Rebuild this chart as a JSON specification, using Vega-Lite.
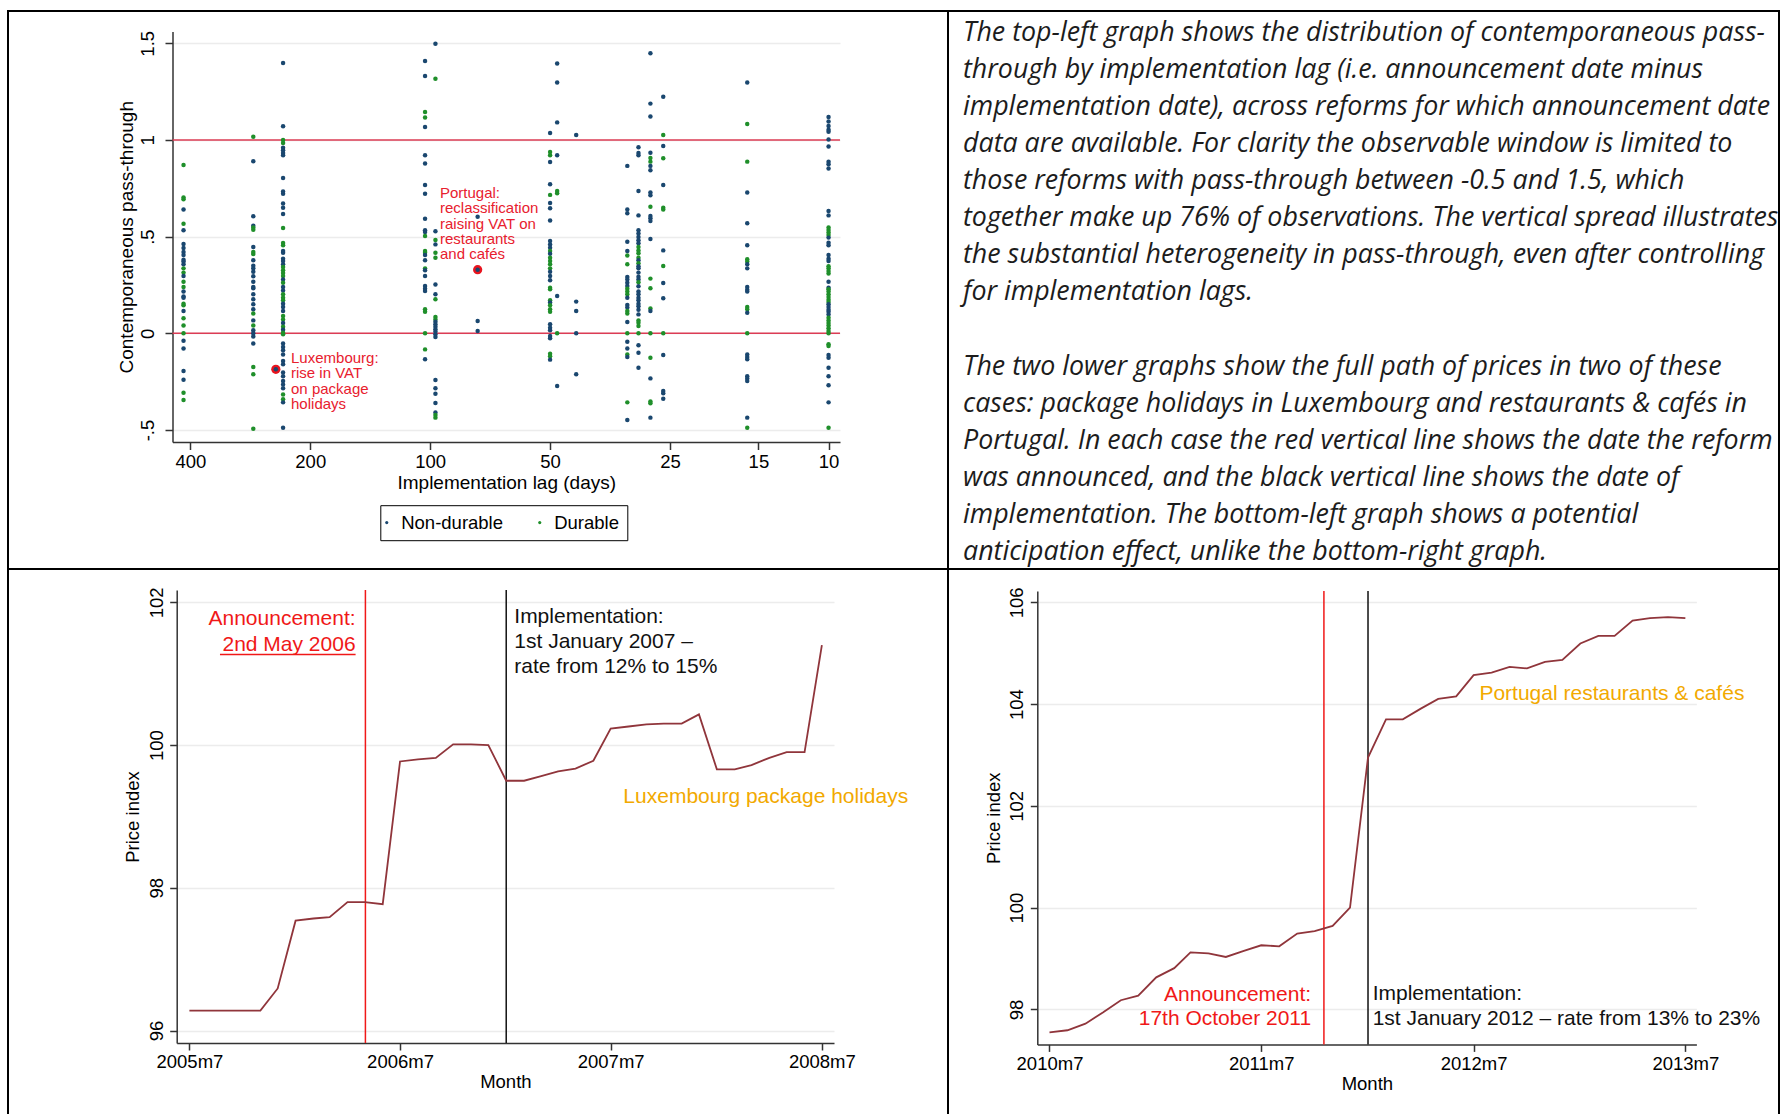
{
  "$schema": "https://vega.github.io/schema/vega-lite/v6.json",
  "background": "white",
  "padding": {"left": 7, "top": 10, "right": 2, "bottom": 0},
  "columns": 2,
  "spacing": 0,
  "align": "each",
  "bounds": "flush",
  "config": {
    "font": "Liberation Sans",
    "view": {"stroke": "black", "strokeWidth": 2, "fill": "white"},
    "axis": {
      "labelFont": "Liberation Sans",
      "titleFont": "Liberation Sans",
      "labelColor": "black",
      "titleColor": "black",
      "labelFontSize": 18.5,
      "titleFontSize": 19,
      "titleFontWeight": "normal",
      "domainColor": "#333333",
      "domainWidth": 1.5,
      "tickColor": "#333333",
      "tickWidth": 1.5,
      "tickSize": 7,
      "gridColor": "#ececec",
      "gridWidth": 1.5,
      "labelFlush": false,
      "labelOverlap": false
    }
  },
  "concat": [
    {
      "width": 940,
      "height": 558,
      "encoding": {
        "x": {
          "field": "lag",
          "type": "quantitative",
          "scale": {"type": "log", "domain": [9.36, 443.4], "range": [832, 164.5], "nice": false},
          "axis": {
            "orient": "bottom",
            "offset": -127,
            "values": [400, 200, 100, 50, 25, 15, 10],
            "format": "d",
            "grid": false,
            "tickSize": 7.5,
            "labelPadding": 3,
            "title": "Implementation lag (days)",
            "titleBaseline": "top",
            "titlePadding": 2.2
          }
        },
        "y": {
          "field": "pass",
          "type": "quantitative",
          "scale": {"domain": [-0.562, 1.561], "range": [431, 20.5], "nice": false, "zero": false},
          "axis": {
            "orient": "left",
            "offset": -164.5,
            "values": [-0.5, 0, 0.5, 1, 1.5],
            "labelExpr": "datum.value == -0.5 ? '-.5' : datum.value == 0.5 ? '.5' : datum.value == 1.5 ? '1.5' : datum.value == 1 ? '1' : '0'",
            "labelAngle": -90,
            "labelAlign": "center",
            "labelBaseline": "alphabetic",
            "labelPadding": 11.3,
            "tickSize": 7.5,
            "grid": true,
            "title": "Contemporaneous pass-through",
            "titleBaseline": "bottom",
            "titlePadding": 2.6
          }
        }
      },
      "layer": [
        {
          "data": {"values": [
            {"lag": 443.4, "lag_end": 9.36, "pass": 0},
            {"lag": 443.4, "lag_end": 9.36, "pass": 1}
          ]},
          "mark": {"type": "rule", "color": "#dc3c55", "strokeWidth": 1.5},
          "encoding": {"x2": {"field": "lag_end"}}
        },
        {
          "data": {"values": [
            {"lag": 244, "pass": -0.186, "reform": "Luxembourg package holidays"},
            {"lag": 76, "pass": 0.329, "reform": "Portugal restaurants and cafés"}
          ]},
          "mark": {"type": "circle", "color": "#e8141e", "size": 85, "opacity": 1}
        },
        {
          "data": {"values": [
            {"lag":416,"pass":0.871,"group":"Durable"},{"lag":416,"pass":0.702,"group":"Durable"},{"lag":416,"pass":0.693,"group":"Durable"},{"lag":416,"pass":0.640,"group":"Non-durable"},{"lag":416,"pass":0.567,"group":"Durable"},{"lag":416,"pass":0.533,"group":"Non-durable"},{"lag":416,"pass":0.462,"group":"Non-durable"},{"lag":416,"pass":0.441,"group":"Non-durable"},{"lag":416,"pass":0.421,"group":"Non-durable"},{"lag":416,"pass":0.405,"group":"Non-durable"},{"lag":416,"pass":0.381,"group":"Non-durable"},{"lag":416,"pass":0.371,"group":"Non-durable"},{"lag":416,"pass":0.357,"group":"Non-durable"},{"lag":416,"pass":0.336,"group":"Durable"},{"lag":416,"pass":0.314,"group":"Durable"},{"lag":416,"pass":0.297,"group":"Non-durable"},{"lag":416,"pass":0.267,"group":"Durable"},{"lag":416,"pass":0.240,"group":"Durable"},{"lag":416,"pass":0.216,"group":"Non-durable"},{"lag":416,"pass":0.190,"group":"Non-durable"},{"lag":416,"pass":0.184,"group":"Non-durable"},{"lag":416,"pass":0.153,"group":"Durable"},{"lag":416,"pass":0.145,"group":"Durable"},{"lag":416,"pass":0.116,"group":"Non-durable"},{"lag":416,"pass":0.078,"group":"Durable"},{"lag":416,"pass":0.040,"group":"Durable"},{"lag":416,"pass":0.0,"group":"Durable"},{"lag":416,"pass":-0.038,"group":"Non-durable"},{"lag":416,"pass":-0.078,"group":"Non-durable"},{"lag":416,"pass":-0.195,"group":"Non-durable"},{"lag":416,"pass":-0.240,"group":"Non-durable"},{"lag":416,"pass":-0.307,"group":"Durable"},{"lag":416,"pass":-0.345,"group":"Durable"},

            {"lag":278,"pass":1.017,"group":"Durable"},{"lag":278,"pass":0.890,"group":"Non-durable"},{"lag":278,"pass":0.605,"group":"Non-durable"},{"lag":278,"pass":0.557,"group":"Non-durable"},{"lag":278,"pass":0.547,"group":"Durable"},{"lag":278,"pass":0.536,"group":"Durable"},{"lag":278,"pass":0.447,"group":"Non-durable"},{"lag":278,"pass":0.421,"group":"Durable"},{"lag":278,"pass":0.410,"group":"Durable"},{"lag":278,"pass":0.378,"group":"Non-durable"},{"lag":278,"pass":0.350,"group":"Non-durable"},{"lag":278,"pass":0.336,"group":"Non-durable"},{"lag":278,"pass":0.319,"group":"Non-durable"},{"lag":278,"pass":0.295,"group":"Non-durable"},{"lag":278,"pass":0.267,"group":"Non-durable"},{"lag":278,"pass":0.240,"group":"Non-durable"},{"lag":278,"pass":0.233,"group":"Non-durable"},{"lag":278,"pass":0.202,"group":"Non-durable"},{"lag":278,"pass":0.176,"group":"Non-durable"},{"lag":278,"pass":0.150,"group":"Non-durable"},{"lag":278,"pass":0.124,"group":"Non-durable"},{"lag":278,"pass":0.102,"group":"Durable"},{"lag":278,"pass":0.067,"group":"Non-durable"},{"lag":278,"pass":0.041,"group":"Durable"},{"lag":278,"pass":0.016,"group":"Non-durable"},{"lag":278,"pass":0.0,"group":"Non-durable"},{"lag":278,"pass":-0.016,"group":"Non-durable"},{"lag":278,"pass":-0.053,"group":"Non-durable"},{"lag":278,"pass":-0.174,"group":"Durable"},{"lag":278,"pass":-0.212,"group":"Durable"},{"lag":278,"pass":-0.493,"group":"Durable"},

            {"lag":234,"pass":1.398,"group":"Non-durable"},{"lag":234,"pass":1.071,"group":"Non-durable"},{"lag":234,"pass":1.0,"group":"Durable"},{"lag":234,"pass":0.984,"group":"Durable"},{"lag":234,"pass":0.960,"group":"Non-durable"},{"lag":234,"pass":0.947,"group":"Non-durable"},{"lag":234,"pass":0.933,"group":"Non-durable"},{"lag":234,"pass":0.921,"group":"Non-durable"},{"lag":234,"pass":0.803,"group":"Non-durable"},{"lag":234,"pass":0.733,"group":"Non-durable"},{"lag":234,"pass":0.722,"group":"Non-durable"},{"lag":234,"pass":0.672,"group":"Non-durable"},{"lag":234,"pass":0.650,"group":"Non-durable"},{"lag":234,"pass":0.617,"group":"Non-durable"},{"lag":234,"pass":0.545,"group":"Durable"},{"lag":234,"pass":0.467,"group":"Durable"},{"lag":234,"pass":0.455,"group":"Durable"},{"lag":234,"pass":0.426,"group":"Non-durable"},{"lag":234,"pass":0.417,"group":"Non-durable"},{"lag":234,"pass":0.386,"group":"Non-durable"},{"lag":234,"pass":0.374,"group":"Non-durable"},{"lag":234,"pass":0.357,"group":"Non-durable"},{"lag":234,"pass":0.343,"group":"Durable"},{"lag":234,"pass":0.326,"group":"Durable"},{"lag":234,"pass":0.312,"group":"Durable"},{"lag":234,"pass":0.297,"group":"Durable"},{"lag":234,"pass":0.279,"group":"Non-durable"},{"lag":234,"pass":0.262,"group":"Durable"},{"lag":234,"pass":0.240,"group":"Non-durable"},{"lag":234,"pass":0.222,"group":"Non-durable"},{"lag":234,"pass":0.202,"group":"Durable"},{"lag":234,"pass":0.184,"group":"Durable"},{"lag":234,"pass":0.171,"group":"Durable"},{"lag":234,"pass":0.153,"group":"Non-durable"},{"lag":234,"pass":0.136,"group":"Non-durable"},{"lag":234,"pass":0.116,"group":"Non-durable"},{"lag":234,"pass":0.090,"group":"Durable"},{"lag":234,"pass":0.071,"group":"Durable"},{"lag":234,"pass":0.053,"group":"Non-durable"},{"lag":234,"pass":0.034,"group":"Durable"},{"lag":234,"pass":0.019,"group":"Non-durable"},{"lag":234,"pass":0.003,"group":"Durable"},{"lag":234,"pass":-0.005,"group":"Durable"},{"lag":234,"pass":-0.053,"group":"Non-durable"},{"lag":234,"pass":-0.071,"group":"Non-durable"},{"lag":234,"pass":-0.088,"group":"Non-durable"},{"lag":234,"pass":-0.109,"group":"Non-durable"},{"lag":234,"pass":-0.143,"group":"Non-durable"},{"lag":234,"pass":-0.160,"group":"Non-durable"},{"lag":234,"pass":-0.202,"group":"Non-durable"},{"lag":234,"pass":-0.222,"group":"Non-durable"},{"lag":234,"pass":-0.247,"group":"Non-durable"},{"lag":234,"pass":-0.264,"group":"Non-durable"},{"lag":234,"pass":-0.284,"group":"Non-durable"},{"lag":234,"pass":-0.316,"group":"Durable"},{"lag":234,"pass":-0.341,"group":"Durable"},{"lag":234,"pass":-0.357,"group":"Non-durable"},{"lag":234,"pass":-0.488,"group":"Non-durable"},

            {"lag":244,"pass":-0.186,"group":"Non-durable"},

            {"lag":103,"pass":1.409,"group":"Non-durable"},{"lag":103,"pass":1.331,"group":"Non-durable"},{"lag":103,"pass":1.145,"group":"Durable"},{"lag":103,"pass":1.116,"group":"Durable"},{"lag":103,"pass":1.067,"group":"Non-durable"},{"lag":103,"pass":0.921,"group":"Non-durable"},{"lag":103,"pass":0.878,"group":"Non-durable"},{"lag":103,"pass":0.767,"group":"Non-durable"},{"lag":103,"pass":0.722,"group":"Non-durable"},{"lag":103,"pass":0.593,"group":"Non-durable"},{"lag":103,"pass":0.533,"group":"Non-durable"},{"lag":103,"pass":0.524,"group":"Non-durable"},{"lag":103,"pass":0.503,"group":"Durable"},{"lag":103,"pass":0.426,"group":"Durable"},{"lag":103,"pass":0.417,"group":"Durable"},{"lag":103,"pass":0.405,"group":"Non-durable"},{"lag":103,"pass":0.378,"group":"Non-durable"},{"lag":103,"pass":0.336,"group":"Durable"},{"lag":103,"pass":0.326,"group":"Non-durable"},{"lag":103,"pass":0.297,"group":"Non-durable"},{"lag":103,"pass":0.245,"group":"Non-durable"},{"lag":103,"pass":0.231,"group":"Non-durable"},{"lag":103,"pass":0.219,"group":"Non-durable"},{"lag":103,"pass":0.124,"group":"Durable"},{"lag":103,"pass":0.112,"group":"Durable"},{"lag":103,"pass":0.0,"group":"Durable"},{"lag":103,"pass":-0.083,"group":"Durable"},{"lag":103,"pass":-0.134,"group":"Non-durable"},

            {"lag":97,"pass":1.498,"group":"Non-durable"},{"lag":97,"pass":1.317,"group":"Durable"},{"lag":97,"pass":0.528,"group":"Non-durable"},{"lag":97,"pass":0.483,"group":"Durable"},{"lag":97,"pass":0.460,"group":"Non-durable"},{"lag":97,"pass":0.417,"group":"Durable"},{"lag":97,"pass":0.391,"group":"Durable"},{"lag":97,"pass":0.253,"group":"Non-durable"},{"lag":97,"pass":0.202,"group":"Non-durable"},{"lag":97,"pass":0.176,"group":"Durable"},{"lag":97,"pass":0.084,"group":"Durable"},{"lag":97,"pass":0.072,"group":"Durable"},{"lag":97,"pass":0.060,"group":"Non-durable"},{"lag":97,"pass":0.047,"group":"Non-durable"},{"lag":97,"pass":0.034,"group":"Non-durable"},{"lag":97,"pass":0.021,"group":"Non-durable"},{"lag":97,"pass":0.009,"group":"Non-durable"},{"lag":97,"pass":-0.005,"group":"Non-durable"},{"lag":97,"pass":-0.019,"group":"Non-durable"},{"lag":97,"pass":-0.241,"group":"Non-durable"},{"lag":97,"pass":-0.284,"group":"Non-durable"},{"lag":97,"pass":-0.312,"group":"Non-durable"},{"lag":97,"pass":-0.360,"group":"Non-durable"},{"lag":97,"pass":-0.410,"group":"Non-durable"},{"lag":97,"pass":-0.422,"group":"Durable"},{"lag":97,"pass":-0.436,"group":"Durable"},

            {"lag":76,"pass":0.603,"group":"Non-durable"},{"lag":76,"pass":0.329,"group":"Non-durable"},{"lag":76,"pass":0.064,"group":"Non-durable"},{"lag":76,"pass":0.012,"group":"Non-durable"},

            {"lag":50,"pass":1.036,"group":"Non-durable"},{"lag":50,"pass":0.938,"group":"Durable"},{"lag":50,"pass":0.921,"group":"Durable"},{"lag":50,"pass":0.886,"group":"Non-durable"},{"lag":50,"pass":0.771,"group":"Non-durable"},{"lag":50,"pass":0.716,"group":"Durable"},{"lag":50,"pass":0.674,"group":"Non-durable"},{"lag":50,"pass":0.647,"group":"Non-durable"},{"lag":50,"pass":0.584,"group":"Non-durable"},{"lag":50,"pass":0.478,"group":"Non-durable"},{"lag":50,"pass":0.460,"group":"Non-durable"},{"lag":50,"pass":0.443,"group":"Non-durable"},{"lag":50,"pass":0.426,"group":"Durable"},{"lag":50,"pass":0.412,"group":"Non-durable"},{"lag":50,"pass":0.391,"group":"Durable"},{"lag":50,"pass":0.374,"group":"Durable"},{"lag":50,"pass":0.357,"group":"Durable"},{"lag":50,"pass":0.336,"group":"Durable"},{"lag":50,"pass":0.319,"group":"Non-durable"},{"lag":50,"pass":0.297,"group":"Non-durable"},{"lag":50,"pass":0.274,"group":"Non-durable"},{"lag":50,"pass":0.236,"group":"Durable"},{"lag":50,"pass":0.228,"group":"Durable"},{"lag":50,"pass":0.171,"group":"Durable"},{"lag":50,"pass":0.159,"group":"Non-durable"},{"lag":50,"pass":0.145,"group":"Durable"},{"lag":50,"pass":0.124,"group":"Durable"},{"lag":50,"pass":0.112,"group":"Durable"},{"lag":50,"pass":0.047,"group":"Non-durable"},{"lag":50,"pass":0.029,"group":"Non-durable"},{"lag":50,"pass":0.016,"group":"Non-durable"},{"lag":50,"pass":-0.014,"group":"Non-durable"},{"lag":50,"pass":-0.026,"group":"Non-durable"},{"lag":50,"pass":-0.105,"group":"Durable"},{"lag":50,"pass":-0.119,"group":"Durable"},{"lag":50,"pass":-0.136,"group":"Non-durable"},

            {"lag":48,"pass":1.395,"group":"Non-durable"},{"lag":48,"pass":1.297,"group":"Non-durable"},{"lag":48,"pass":1.091,"group":"Non-durable"},{"lag":48,"pass":0.921,"group":"Non-durable"},{"lag":48,"pass":0.736,"group":"Durable"},{"lag":48,"pass":0.724,"group":"Durable"},{"lag":48,"pass":0.193,"group":"Non-durable"},{"lag":48,"pass":0.0,"group":"Durable"},{"lag":48,"pass":-0.272,"group":"Non-durable"},

            {"lag":43,"pass":1.026,"group":"Non-durable"},{"lag":43,"pass":0.164,"group":"Non-durable"},{"lag":43,"pass":0.116,"group":"Non-durable"},{"lag":43,"pass":0.0,"group":"Non-durable"},{"lag":43,"pass":-0.212,"group":"Non-durable"},

            {"lag":32,"pass":0.866,"group":"Non-durable"},{"lag":32,"pass":0.641,"group":"Non-durable"},{"lag":32,"pass":0.621,"group":"Non-durable"},{"lag":32,"pass":0.474,"group":"Non-durable"},{"lag":32,"pass":0.426,"group":"Non-durable"},{"lag":32,"pass":0.402,"group":"Durable"},{"lag":32,"pass":0.357,"group":"Durable"},{"lag":32,"pass":0.291,"group":"Non-durable"},{"lag":32,"pass":0.278,"group":"Non-durable"},{"lag":32,"pass":0.262,"group":"Non-durable"},{"lag":32,"pass":0.245,"group":"Non-durable"},{"lag":32,"pass":0.231,"group":"Durable"},{"lag":32,"pass":0.216,"group":"Durable"},{"lag":32,"pass":0.202,"group":"Durable"},{"lag":32,"pass":0.184,"group":"Non-durable"},{"lag":32,"pass":0.147,"group":"Non-durable"},{"lag":32,"pass":0.133,"group":"Non-durable"},{"lag":32,"pass":0.116,"group":"Durable"},{"lag":32,"pass":0.102,"group":"Durable"},{"lag":32,"pass":0.059,"group":"Non-durable"},{"lag":32,"pass":0.0,"group":"Durable"},{"lag":32,"pass":-0.043,"group":"Non-durable"},{"lag":32,"pass":-0.079,"group":"Non-durable"},{"lag":32,"pass":-0.109,"group":"Durable"},{"lag":32,"pass":-0.122,"group":"Non-durable"},{"lag":32,"pass":-0.357,"group":"Durable"},{"lag":32,"pass":-0.448,"group":"Non-durable"},

            {"lag":30,"pass":0.962,"group":"Non-durable"},{"lag":30,"pass":0.933,"group":"Non-durable"},{"lag":30,"pass":0.921,"group":"Non-durable"},{"lag":30,"pass":0.736,"group":"Non-durable"},{"lag":30,"pass":0.610,"group":"Non-durable"},{"lag":30,"pass":0.533,"group":"Non-durable"},{"lag":30,"pass":0.516,"group":"Non-durable"},{"lag":30,"pass":0.498,"group":"Non-durable"},{"lag":30,"pass":0.481,"group":"Non-durable"},{"lag":30,"pass":0.466,"group":"Non-durable"},{"lag":30,"pass":0.447,"group":"Durable"},{"lag":30,"pass":0.429,"group":"Durable"},{"lag":30,"pass":0.414,"group":"Durable"},{"lag":30,"pass":0.391,"group":"Durable"},{"lag":30,"pass":0.378,"group":"Non-durable"},{"lag":30,"pass":0.362,"group":"Durable"},{"lag":30,"pass":0.347,"group":"Non-durable"},{"lag":30,"pass":0.336,"group":"Non-durable"},{"lag":30,"pass":0.314,"group":"Non-durable"},{"lag":30,"pass":0.293,"group":"Non-durable"},{"lag":30,"pass":0.279,"group":"Non-durable"},{"lag":30,"pass":0.264,"group":"Durable"},{"lag":30,"pass":0.243,"group":"Non-durable"},{"lag":30,"pass":0.216,"group":"Non-durable"},{"lag":30,"pass":0.202,"group":"Non-durable"},{"lag":30,"pass":0.184,"group":"Non-durable"},{"lag":30,"pass":0.171,"group":"Non-durable"},{"lag":30,"pass":0.153,"group":"Non-durable"},{"lag":30,"pass":0.140,"group":"Non-durable"},{"lag":30,"pass":0.122,"group":"Non-durable"},{"lag":30,"pass":0.098,"group":"Non-durable"},{"lag":30,"pass":0.067,"group":"Durable"},{"lag":30,"pass":0.055,"group":"Durable"},{"lag":30,"pass":0.038,"group":"Durable"},{"lag":30,"pass":0.0,"group":"Durable"},{"lag":30,"pass":-0.062,"group":"Non-durable"},{"lag":30,"pass":-0.100,"group":"Non-durable"},{"lag":30,"pass":-0.178,"group":"Non-durable"},

            {"lag":28,"pass":1.448,"group":"Non-durable"},{"lag":28,"pass":1.188,"group":"Non-durable"},{"lag":28,"pass":1.121,"group":"Non-durable"},{"lag":28,"pass":0.934,"group":"Non-durable"},{"lag":28,"pass":0.907,"group":"Durable"},{"lag":28,"pass":0.888,"group":"Durable"},{"lag":28,"pass":0.866,"group":"Non-durable"},{"lag":28,"pass":0.843,"group":"Non-durable"},{"lag":28,"pass":0.728,"group":"Non-durable"},{"lag":28,"pass":0.714,"group":"Non-durable"},{"lag":28,"pass":0.655,"group":"Durable"},{"lag":28,"pass":0.607,"group":"Non-durable"},{"lag":28,"pass":0.595,"group":"Non-durable"},{"lag":28,"pass":0.581,"group":"Non-durable"},{"lag":28,"pass":0.488,"group":"Non-durable"},{"lag":28,"pass":0.283,"group":"Durable"},{"lag":28,"pass":0.233,"group":"Durable"},{"lag":28,"pass":0.129,"group":"Durable"},{"lag":28,"pass":0.116,"group":"Non-durable"},{"lag":28,"pass":0.0,"group":"Durable"},{"lag":28,"pass":-0.126,"group":"Durable"},{"lag":28,"pass":-0.233,"group":"Non-durable"},{"lag":28,"pass":-0.353,"group":"Durable"},{"lag":28,"pass":-0.362,"group":"Durable"},{"lag":28,"pass":-0.436,"group":"Non-durable"},

            {"lag":26,"pass":1.224,"group":"Non-durable"},{"lag":26,"pass":1.026,"group":"Durable"},{"lag":26,"pass":0.969,"group":"Non-durable"},{"lag":26,"pass":0.905,"group":"Durable"},{"lag":26,"pass":0.767,"group":"Non-durable"},{"lag":26,"pass":0.650,"group":"Durable"},{"lag":26,"pass":0.641,"group":"Durable"},{"lag":26,"pass":0.429,"group":"Non-durable"},{"lag":26,"pass":0.348,"group":"Durable"},{"lag":26,"pass":0.260,"group":"Non-durable"},{"lag":26,"pass":0.181,"group":"Non-durable"},{"lag":26,"pass":0.0,"group":"Durable"},{"lag":26,"pass":-0.112,"group":"Non-durable"},{"lag":26,"pass":-0.298,"group":"Non-durable"},{"lag":26,"pass":-0.310,"group":"Non-durable"},{"lag":26,"pass":-0.338,"group":"Non-durable"},

            {"lag":16,"pass":1.297,"group":"Non-durable"},{"lag":16,"pass":1.083,"group":"Durable"},{"lag":16,"pass":0.888,"group":"Durable"},{"lag":16,"pass":0.728,"group":"Non-durable"},{"lag":16,"pass":0.569,"group":"Non-durable"},{"lag":16,"pass":0.455,"group":"Non-durable"},{"lag":16,"pass":0.383,"group":"Durable"},{"lag":16,"pass":0.371,"group":"Durable"},{"lag":16,"pass":0.357,"group":"Non-durable"},{"lag":16,"pass":0.336,"group":"Non-durable"},{"lag":16,"pass":0.240,"group":"Non-durable"},{"lag":16,"pass":0.226,"group":"Non-durable"},{"lag":16,"pass":0.216,"group":"Non-durable"},{"lag":16,"pass":0.136,"group":"Durable"},{"lag":16,"pass":0.124,"group":"Durable"},{"lag":16,"pass":0.107,"group":"Non-durable"},{"lag":16,"pass":0.0,"group":"Durable"},{"lag":16,"pass":-0.109,"group":"Non-durable"},{"lag":16,"pass":-0.122,"group":"Non-durable"},{"lag":16,"pass":-0.134,"group":"Non-durable"},{"lag":16,"pass":-0.222,"group":"Non-durable"},{"lag":16,"pass":-0.234,"group":"Non-durable"},{"lag":16,"pass":-0.247,"group":"Non-durable"},{"lag":16,"pass":-0.436,"group":"Non-durable"},{"lag":16,"pass":-0.488,"group":"Durable"},

            {"lag":10,"pass":1.119,"group":"Non-durable"},{"lag":10,"pass":1.095,"group":"Non-durable"},{"lag":10,"pass":1.072,"group":"Non-durable"},{"lag":10,"pass":1.053,"group":"Non-durable"},{"lag":10,"pass":1.043,"group":"Non-durable"},{"lag":10,"pass":1.003,"group":"Non-durable"},{"lag":10,"pass":0.966,"group":"Non-durable"},{"lag":10,"pass":0.888,"group":"Non-durable"},{"lag":10,"pass":0.874,"group":"Non-durable"},{"lag":10,"pass":0.852,"group":"Non-durable"},{"lag":10,"pass":0.633,"group":"Non-durable"},{"lag":10,"pass":0.610,"group":"Non-durable"},{"lag":10,"pass":0.547,"group":"Durable"},{"lag":10,"pass":0.534,"group":"Durable"},{"lag":10,"pass":0.521,"group":"Durable"},{"lag":10,"pass":0.509,"group":"Durable"},{"lag":10,"pass":0.495,"group":"Non-durable"},{"lag":10,"pass":0.469,"group":"Non-durable"},{"lag":10,"pass":0.455,"group":"Non-durable"},{"lag":10,"pass":0.405,"group":"Non-durable"},{"lag":10,"pass":0.386,"group":"Non-durable"},{"lag":10,"pass":0.374,"group":"Non-durable"},{"lag":10,"pass":0.347,"group":"Durable"},{"lag":10,"pass":0.336,"group":"Durable"},{"lag":10,"pass":0.322,"group":"Durable"},{"lag":10,"pass":0.309,"group":"Durable"},{"lag":10,"pass":0.267,"group":"Non-durable"},{"lag":10,"pass":0.236,"group":"Non-durable"},{"lag":10,"pass":0.228,"group":"Durable"},{"lag":10,"pass":0.216,"group":"Durable"},{"lag":10,"pass":0.202,"group":"Durable"},{"lag":10,"pass":0.188,"group":"Durable"},{"lag":10,"pass":0.174,"group":"Durable"},{"lag":10,"pass":0.162,"group":"Durable"},{"lag":10,"pass":0.150,"group":"Non-durable"},{"lag":10,"pass":0.136,"group":"Non-durable"},{"lag":10,"pass":0.122,"group":"Non-durable"},{"lag":10,"pass":0.112,"group":"Non-durable"},{"lag":10,"pass":0.098,"group":"Non-durable"},{"lag":10,"pass":0.081,"group":"Durable"},{"lag":10,"pass":0.067,"group":"Durable"},{"lag":10,"pass":0.053,"group":"Durable"},{"lag":10,"pass":0.040,"group":"Durable"},{"lag":10,"pass":0.026,"group":"Durable"},{"lag":10,"pass":0.012,"group":"Durable"},{"lag":10,"pass":0.0,"group":"Durable"},{"lag":10,"pass":-0.057,"group":"Durable"},{"lag":10,"pass":-0.066,"group":"Durable"},{"lag":10,"pass":-0.112,"group":"Non-durable"},{"lag":10,"pass":-0.126,"group":"Non-durable"},{"lag":10,"pass":-0.178,"group":"Non-durable"},{"lag":10,"pass":-0.222,"group":"Non-durable"},{"lag":10,"pass":-0.269,"group":"Non-durable"},{"lag":10,"pass":-0.357,"group":"Non-durable"},{"lag":10,"pass":-0.488,"group":"Durable"}
          ]},
          "mark": {"type": "circle", "size": 20, "opacity": 1},
          "encoding": {
            "color": {
              "field": "group",
              "type": "nominal",
              "scale": {"domain": ["Non-durable", "Durable"], "range": ["#1a476f", "#1f8f2a"]},
              "legend": {
                "orient": "none",
                "legendX": 372.3,
                "legendY": 494.2,
                "direction": "horizontal",
                "columns": 2,
                "title": null,
                "fillColor": "white",
                "strokeColor": "black",
                "padding": 8,
                "symbolType": "circle",
                "symbolSize": 10,
                "symbolStrokeWidth": 0,
                "symbolOffset": -10.8,
                "labelFont": "Liberation Sans",
                "labelFontSize": 18.5,
                "labelColor": "black",
                "labelOffset": 5.2,
                "columnPadding": 34
              }
            }
          }
        },
        {
          "data": {"values": [
            {"lag": 223.5, "pass": -0.128, "note": "Luxembourg:"},
            {"lag": 223.5, "pass": -0.207, "note": "rise in VAT"},
            {"lag": 223.5, "pass": -0.286, "note": "on package"},
            {"lag": 223.5, "pass": -0.365, "note": "holidays"},
            {"lag": 94.5, "pass": 0.728, "note": "Portugal:"},
            {"lag": 94.5, "pass": 0.649, "note": "reclassification"},
            {"lag": 94.5, "pass": 0.568, "note": "raising VAT on"},
            {"lag": 94.5, "pass": 0.487, "note": "restaurants"},
            {"lag": 94.5, "pass": 0.408, "note": "and cafés"}
          ]},
          "mark": {"type": "text", "align": "left", "baseline": "middle", "color": "#e8202e", "fontSize": 15, "font": "Liberation Sans"},
          "encoding": {"text": {"field": "note"}}
        }
      ]
    },
    {
      "width": 831,
      "height": 558,
      "data": {"values": [
        {"line": 0, "copy": "The top-left graph shows the distribution of contemporaneous pass-"},
        {"line": 1, "copy": "through by implementation lag (i.e. announcement date minus"},
        {"line": 2, "copy": "implementation date), across reforms for which announcement date"},
        {"line": 3, "copy": "data are available. For clarity the observable window is limited to"},
        {"line": 4, "copy": "those reforms with pass-through between -0.5 and 1.5, which"},
        {"line": 5, "copy": "together make up 76% of observations. The vertical spread illustrates"},
        {"line": 6, "copy": "the substantial heterogeneity in pass-through, even after controlling"},
        {"line": 7, "copy": "for implementation lags."},
        {"line": 9, "copy": "The two lower graphs show the full path of prices in two of these"},
        {"line": 10, "copy": "cases: package holidays in Luxembourg and restaurants & cafés in"},
        {"line": 11, "copy": "Portugal. In each case the red vertical line shows the date the reform"},
        {"line": 12, "copy": "was announced, and the black vertical line shows the date of"},
        {"line": 13, "copy": "implementation. The bottom-left graph shows a potential"},
        {"line": 14, "copy": "anticipation effect, unlike the bottom-right graph."}
      ]},
      "mark": {"type": "text", "align": "left", "baseline": "middle", "font": "Open Sans", "fontStyle": "italic", "fontSize": 26.8, "color": "#1c1c1c"},
      "encoding": {
        "x": {"datum": 0, "type": "quantitative", "scale": {"domain": [-0.0184, 1], "nice": false, "zero": false}, "axis": null},
        "y": {"field": "line", "type": "quantitative", "scale": {"domain": [-0.5935, 14.459], "reverse": true, "nice": false, "zero": false}, "axis": null},
        "text": {"field": "copy"}
      }
    },
    {
      "width": 940,
      "height": 546,
      "encoding": {
        "x": {
          "field": "month",
          "type": "temporal",
          "scale": {"type": "utc", "domain": [{"year": 2005, "month": 6, "date": 9, "utc": true}, {"year": 2008, "month": 7, "date": 22, "utc": true}], "range": [168.7, 826], "nice": false},
          "axis": {
            "orient": "bottom",
            "offset": -72,
            "values": [{"year": 2005, "month": 7, "date": 1, "utc": true}, {"year": 2006, "month": 7, "date": 1, "utc": true}, {"year": 2007, "month": 7, "date": 1, "utc": true}, {"year": 2008, "month": 7, "date": 1, "utc": true}],
            "labelExpr": "utcFormat(datum.value, '%Y') + 'm' + utcFormat(datum.value, '%-m')",
            "grid": false,
            "labelPadding": 2.1,
            "title": "Month",
            "titleFontSize": 18.5,
            "titleBaseline": "top",
            "titlePadding": 2.1
          }
        },
        "y": {
          "field": "index",
          "type": "quantitative",
          "scale": {"domain": [95.826, 102.172], "range": [474, 21], "nice": false, "zero": false},
          "axis": {
            "orient": "left",
            "offset": -168.7,
            "values": [96, 98, 100, 102],
            "labelAngle": -90,
            "labelAlign": "center",
            "labelBaseline": "alphabetic",
            "labelPadding": 7.6,
            "grid": true,
            "title": "Price index",
            "titleFontSize": 18.5,
            "titleBaseline": "bottom",
            "titlePadding": 5
          }
        }
      },
      "layer": [
        {
          "data": {"values": [
            {"month": "2006-05-02", "index": 95.826, "index_top": 102.172, "event": "Announcement"}
          ]},
          "mark": {"type": "rule", "color": "#f01818", "strokeWidth": 1.5},
          "encoding": {"y2": {"field": "index_top"}}
        },
        {
          "data": {"values": [
            {"month": "2007-01-01", "index": 95.826, "index_top": 102.172, "event": "Implementation"}
          ]},
          "mark": {"type": "rule", "color": "#111111", "strokeWidth": 1.5},
          "encoding": {"y2": {"field": "index_top"}}
        },
        {
          "data": {"values": [
            {"month": "2005-07-01", "index": 96.28}, {"month": "2005-08-01", "index": 96.28}, {"month": "2005-09-01", "index": 96.28},
            {"month": "2005-10-01", "index": 96.28}, {"month": "2005-11-01", "index": 96.28}, {"month": "2005-12-01", "index": 96.59},
            {"month": "2006-01-01", "index": 97.54}, {"month": "2006-02-01", "index": 97.57}, {"month": "2006-03-01", "index": 97.59},
            {"month": "2006-04-01", "index": 97.80}, {"month": "2006-05-01", "index": 97.80}, {"month": "2006-06-01", "index": 97.77},
            {"month": "2006-07-01", "index": 99.77}, {"month": "2006-08-01", "index": 99.80}, {"month": "2006-09-01", "index": 99.82},
            {"month": "2006-10-01", "index": 100.01}, {"month": "2006-11-01", "index": 100.01}, {"month": "2006-12-01", "index": 100.00},
            {"month": "2007-01-01", "index": 99.50}, {"month": "2007-02-01", "index": 99.50}, {"month": "2007-03-01", "index": 99.56},
            {"month": "2007-04-01", "index": 99.63}, {"month": "2007-05-01", "index": 99.67}, {"month": "2007-06-01", "index": 99.78},
            {"month": "2007-07-01", "index": 100.23}, {"month": "2007-08-01", "index": 100.26}, {"month": "2007-09-01", "index": 100.29},
            {"month": "2007-10-01", "index": 100.30}, {"month": "2007-11-01", "index": 100.30}, {"month": "2007-12-01", "index": 100.43},
            {"month": "2008-01-01", "index": 99.66}, {"month": "2008-02-01", "index": 99.66}, {"month": "2008-03-01", "index": 99.72},
            {"month": "2008-04-01", "index": 99.82}, {"month": "2008-05-01", "index": 99.90}, {"month": "2008-06-01", "index": 99.90},
            {"month": "2008-07-01", "index": 101.40}
          ]},
          "mark": {"type": "line", "color": "#90353b", "strokeWidth": 1.8}
        },
        {
          "data": {"values": [
            {"month": "2006-04-15", "index": 101.762, "note": "Announcement:"},
            {"month": "2006-04-15", "index": 101.406, "note": "2nd May 2006"}
          ]},
          "mark": {"type": "text", "align": "right", "baseline": "middle", "color": "#f01818", "fontSize": 21},
          "encoding": {"text": {"field": "note"}}
        },
        {
          "data": {"values": [
            {"month": "2005-08-23", "month_end": "2006-04-15", "index": 101.267}
          ]},
          "mark": {"type": "rule", "color": "#f01818", "strokeWidth": 1.5},
          "encoding": {"x2": {"field": "month_end"}}
        },
        {
          "data": {"values": [
            {"month": "2007-01-15", "index": 101.787, "note": "Implementation:"},
            {"month": "2007-01-15", "index": 101.44, "note": "1st January 2007 –"},
            {"month": "2007-01-15", "index": 101.094, "note": "rate from 12% to 15%"}
          ]},
          "mark": {"type": "text", "align": "left", "baseline": "middle", "color": "#111111", "fontSize": 21},
          "encoding": {"text": {"field": "note"}}
        },
        {
          "data": {"values": [
            {"month": "2007-07-23", "index": 99.273, "note": "Luxembourg package holidays"}
          ]},
          "mark": {"type": "text", "align": "left", "baseline": "middle", "color": "#f2a900", "fontSize": 21},
          "encoding": {"text": {"field": "note"}}
        }
      ]
    },
    {
      "width": 831,
      "height": 546,
      "encoding": {
        "x": {
          "field": "month",
          "type": "temporal",
          "scale": {"type": "utc", "domain": [{"year": 2010, "month": 6, "date": 10, "utc": true}, {"year": 2013, "month": 7, "date": 20, "utc": true}], "range": [89.3, 748.4], "nice": false},
          "axis": {
            "orient": "bottom",
            "offset": -70.6,
            "values": [{"year": 2010, "month": 7, "date": 1, "utc": true}, {"year": 2011, "month": 7, "date": 1, "utc": true}, {"year": 2012, "month": 7, "date": 1, "utc": true}, {"year": 2013, "month": 7, "date": 1, "utc": true}],
            "labelExpr": "utcFormat(datum.value, '%Y') + 'm' + utcFormat(datum.value, '%-m')",
            "grid": false,
            "labelPadding": 3.3,
            "title": "Month",
            "titleFontSize": 18.5,
            "titleBaseline": "top",
            "titlePadding": 1.4
          }
        },
        "y": {
          "field": "index",
          "type": "quantitative",
          "scale": {"domain": [97.312, 106.222], "range": [475.4, 22], "nice": false, "zero": false},
          "axis": {
            "orient": "left",
            "offset": -89.3,
            "values": [98, 100, 102, 104, 106],
            "labelAngle": -90,
            "labelAlign": "center",
            "labelBaseline": "alphabetic",
            "labelPadding": 8.1,
            "grid": true,
            "title": "Price index",
            "titleFontSize": 18.5,
            "titleBaseline": "bottom",
            "titlePadding": 3.8
          }
        }
      },
      "layer": [
        {
          "data": {"values": [
            {"month": "2011-10-17", "index": 97.312, "index_top": 106.222, "event": "Announcement"}
          ]},
          "mark": {"type": "rule", "color": "#f01818", "strokeWidth": 1.5},
          "encoding": {"y2": {"field": "index_top"}}
        },
        {
          "data": {"values": [
            {"month": "2012-01-01", "index": 97.312, "index_top": 106.222, "event": "Implementation"}
          ]},
          "mark": {"type": "rule", "color": "#111111", "strokeWidth": 1.5},
          "encoding": {"y2": {"field": "index_top"}}
        },
        {
          "data": {"values": [
            {"month": "2010-07-01", "index": 97.55}, {"month": "2010-08-01", "index": 97.59}, {"month": "2010-09-01", "index": 97.72},
            {"month": "2010-10-01", "index": 97.94}, {"month": "2010-11-01", "index": 98.18}, {"month": "2010-12-01", "index": 98.27},
            {"month": "2011-01-01", "index": 98.63}, {"month": "2011-02-01", "index": 98.81}, {"month": "2011-03-01", "index": 99.12},
            {"month": "2011-04-01", "index": 99.10}, {"month": "2011-05-01", "index": 99.03}, {"month": "2011-06-01", "index": 99.15},
            {"month": "2011-07-01", "index": 99.26}, {"month": "2011-08-01", "index": 99.24}, {"month": "2011-09-01", "index": 99.49},
            {"month": "2011-10-01", "index": 99.54}, {"month": "2011-11-01", "index": 99.64}, {"month": "2011-12-01", "index": 100.00},
            {"month": "2012-01-01", "index": 102.95}, {"month": "2012-02-01", "index": 103.70}, {"month": "2012-03-01", "index": 103.70},
            {"month": "2012-04-01", "index": 103.91}, {"month": "2012-05-01", "index": 104.10}, {"month": "2012-06-01", "index": 104.15},
            {"month": "2012-07-01", "index": 104.57}, {"month": "2012-08-01", "index": 104.62}, {"month": "2012-09-01", "index": 104.73},
            {"month": "2012-10-01", "index": 104.70}, {"month": "2012-11-01", "index": 104.83}, {"month": "2012-12-01", "index": 104.87},
            {"month": "2013-01-01", "index": 105.19}, {"month": "2013-02-01", "index": 105.34}, {"month": "2013-03-01", "index": 105.34},
            {"month": "2013-04-01", "index": 105.64}, {"month": "2013-05-01", "index": 105.69}, {"month": "2013-06-01", "index": 105.71},
            {"month": "2013-07-01", "index": 105.69}
          ]},
          "mark": {"type": "line", "color": "#90353b", "strokeWidth": 1.8}
        },
        {
          "data": {"values": [
            {"month": "2011-09-25", "index": 98.29, "note": "Announcement:"},
            {"month": "2011-09-25", "index": 97.81, "note": "17th October 2011"}
          ]},
          "mark": {"type": "text", "align": "right", "baseline": "middle", "color": "#f01818", "fontSize": 21},
          "encoding": {"text": {"field": "note"}}
        },
        {
          "data": {"values": [
            {"month": "2012-01-09", "index": 98.30, "note": "Implementation:"},
            {"month": "2012-01-09", "index": 97.82, "note": "1st January 2012 – rate from 13% to 23%"}
          ]},
          "mark": {"type": "text", "align": "left", "baseline": "middle", "color": "#111111", "fontSize": 21},
          "encoding": {"text": {"field": "note"}}
        },
        {
          "data": {"values": [
            {"month": "2012-07-11", "index": 104.19, "note": "Portugal restaurants & cafés"}
          ]},
          "mark": {"type": "text", "align": "left", "baseline": "middle", "color": "#f2a900", "fontSize": 21},
          "encoding": {"text": {"field": "note"}}
        }
      ]
    }
  ]
}
